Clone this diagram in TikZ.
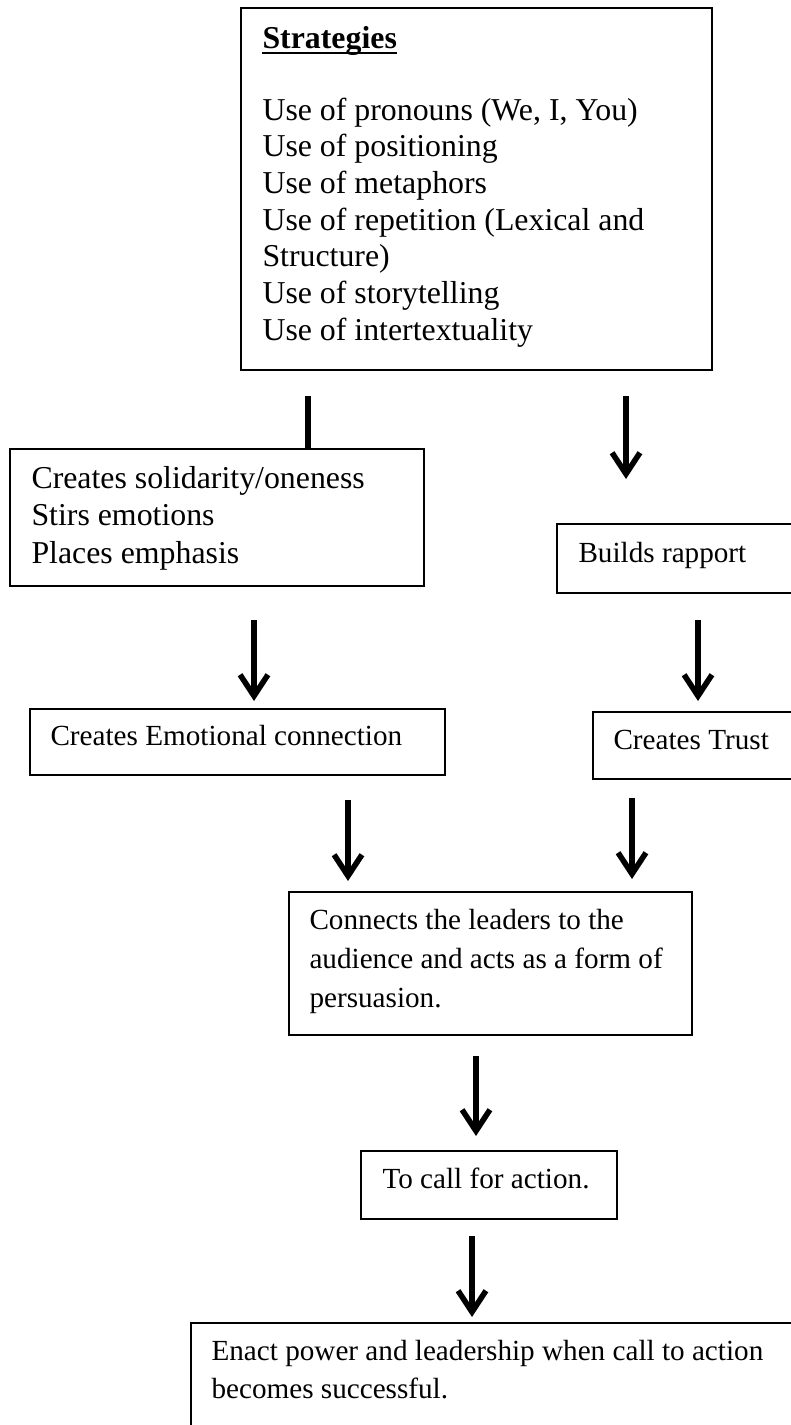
\documentclass[tikz,border=0pt]{standalone}
\usepackage{fontspec}
\setmainfont{Liberation Serif}
\usetikzlibrary{arrows.meta,fit,calc}
\begin{document}
\begin{tikzpicture}[x=0.377pt,y=-0.377pt,
  box/.style={draw,line width=0.75pt,inner sep=0pt,rectangle},
  txt/.style={inner sep=0pt,anchor=base west,align=left,font=\fontsize{12}{13.8}\selectfont},
  txs/.style={txt,font=\fontsize{11}{14.7}\selectfont},
  arr/.style={line width=2.1pt,-{Straight Barb[length=8pt,width=10.5pt]}},
  lnk/.style={line width=2.1pt}]
\useasboundingbox (0,0) rectangle (791,1425);
\clip (0,0) rectangle (791,1425);

% boxes
\node[box,fit={(241,8) (712,370)}] (s) {};
\node[box,fit={(10,449) (424,586)}] (b1) {};
\node[box,fit={(557,524) (830,593)}] (br) {};
\node[box,fit={(30,709) (445,775)}] (ec) {};
\node[box,fit={(593,712) (830,779)}] (ct) {};
\node[box,fit={(289,892) (692,1035)}] (cn) {};
\node[box,fit={(361,1151) (617,1219)}] (ca) {};
\node[box,fit={(191,1323) (830,1460)}] (en) {};

% texts (base anchor = baseline of the last line)
\node[txt,font=\fontsize{12}{13.8}\selectfont\bfseries] (st) at (262,48) {Strategies};
\draw[line width=0.8pt] ([yshift=-2pt]st.base west) -- ([yshift=-2pt]st.base east);
\node[txt] (sl) at (262,340) {Use of pronouns (We, I, You)\\Use of positioning\\Use of metaphors\\Use of repetition (Lexical and\\Structure)\\Use of storytelling\\Use of intertextuality};
\node[txt,font=\fontsize{12}{14.1}\selectfont] (b1t) at (31,563) {Creates solidarity/oneness\\Stirs emotions\\Places emphasis};
\node[txs] (brt) at (578,562) {Builds rapport};
\node[txs] (ect) at (50,745) {Creates Emotional connection};
\node[txs] (ctt) at (613,749) {Creates Trust};
\node[txs] (cnt) at (309,1007) {Connects the leaders to the\\audience and acts as a form of\\persuasion.};
\node[txs] (cat) at (382,1188) {To call for action.};
\node[txs,font=\fontsize{11}{14.3}\selectfont] (ent) at (211,1398) {Enact power and leadership when call to action\\becomes successful.};

% connectors
\draw[lnk] ($(s.south west)+(68,25)$) -- ($(b1.north west)+(299,0)$);
\draw[arr] ($(s.south west)+(386,25)$) -- ($(br.north west)+(70,-44)$);
\draw[arr] ($(b1.south west)+(245,33)$) -- ($(ec.north west)+(225,-7)$);
\draw[arr] ($(br.south west)+(142,26)$) -- ($(ct.north west)+(106,-10)$);
\draw[arr] ($(ec.south west)+(319,24)$) -- ($(cn.north west)+(60,-10)$);
\draw[arr] ($(ct.south west)+(40,18)$) -- ($(cn.north west)+(344,-12)$);
\draw[arr] ($(cn.south west)+(188,20)$) -- ($(ca.north west)+(116,-14)$);
\draw[arr] ($(ca.south west)+(112,16)$) -- ($(en.north west)+(282,-5)$);
\end{tikzpicture}
\end{document}
